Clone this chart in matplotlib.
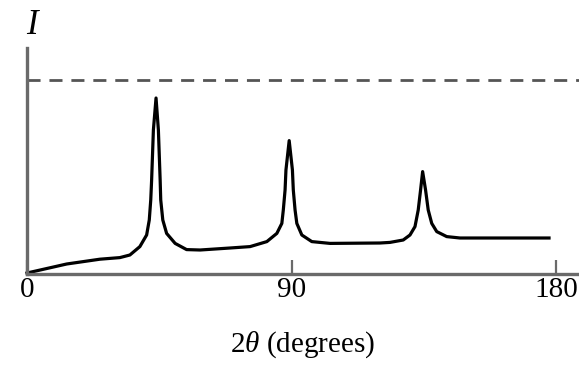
import matplotlib
matplotlib.use("Agg")
import matplotlib.pyplot as plt

# diffraction trace: 2theta (deg) and intensity (arb.)
two_theta = [0.0, 13.5, 24.8, 31.6, 35.0, 38.4, 40.7, 41.6, 42.1, 42.4,
             43.0, 43.9, 44.7, 45.3, 45.5, 46.2, 47.5, 50.4, 54.3, 58.9,
             69.1, 75.9, 81.6, 85.0, 86.7, 87.2, 87.8, 88.1, 89.2, 90.3,
             90.6, 91.2, 91.8, 93.5, 96.9, 103.1, 120.1, 123.5, 128.0,
             130.3, 132.0, 133.1, 133.9, 134.6, 135.6, 136.5, 137.7, 139.4,
             142.8, 147.3, 177.6]
intensity = [0.05, 0.5, 0.74, 0.82, 0.95, 1.37, 1.95, 2.7, 3.7, 4.7,
             7.2, 8.8, 7.2, 4.7, 3.7, 2.7, 2.03, 1.53, 1.22, 1.2,
             1.3, 1.37, 1.62, 2.03, 2.53, 3.2, 4.2, 5.2, 6.67, 5.2,
             4.2, 3.2, 2.53, 1.95, 1.62, 1.53, 1.55, 1.58, 1.7,
             1.95, 2.37, 3.2, 4.2, 5.12, 4.2, 3.2, 2.53, 2.12,
             1.87, 1.8, 1.8]
limit_level = 9.7
tick_vals = [0, 90, 180]
tick_labels = ["0", "90", "180"]

plt.rcParams['mathtext.fontset'] = 'custom'
plt.rcParams['mathtext.rm'] = 'Liberation Serif'
plt.rcParams['mathtext.it'] = 'Liberation Serif:italic'

fig = plt.figure(figsize=(5.79, 3.67), dpi=100)
ax = fig.add_axes([27 / 579, 93 / 367, 552 / 579, 226 / 367])

ax.plot(two_theta, intensity, color='black', lw=2.3, clip_on=False,
        solid_joinstyle='round')
ax.axhline(limit_level, color='#555555', lw=2.0, linestyle=(0, (4.7, 3.2)))

ax.set_xlim(0, 187.8)
ax.set_ylim(0, 11.3)

for s in ['top', 'right']:
    ax.spines[s].set_visible(False)
for s in ['left', 'bottom']:
    ax.spines[s].set_color('#6a6a6a')
    ax.spines[s].set_linewidth(2.4)

ax.set_yticks([])
ax.set_xticks(tick_vals)
ax.set_xticklabels(tick_labels, family='Liberation Serif', fontsize=21)
ax.tick_params(axis='x', direction='in', length=10, width=1.6,
               color='#6a6a6a', pad=2)

fig.text(303 / 579, 1 - 345 / 367, r'2$\theta$ (degrees)',
         family='Liberation Serif', fontsize=21, ha='center', va='center')
fig.text(32 / 579, 1 - 25 / 367, 'I', family='Liberation Serif',
         fontstyle='italic', fontsize=25, ha='center', va='center')

fig.savefig('out.png', dpi=100)
